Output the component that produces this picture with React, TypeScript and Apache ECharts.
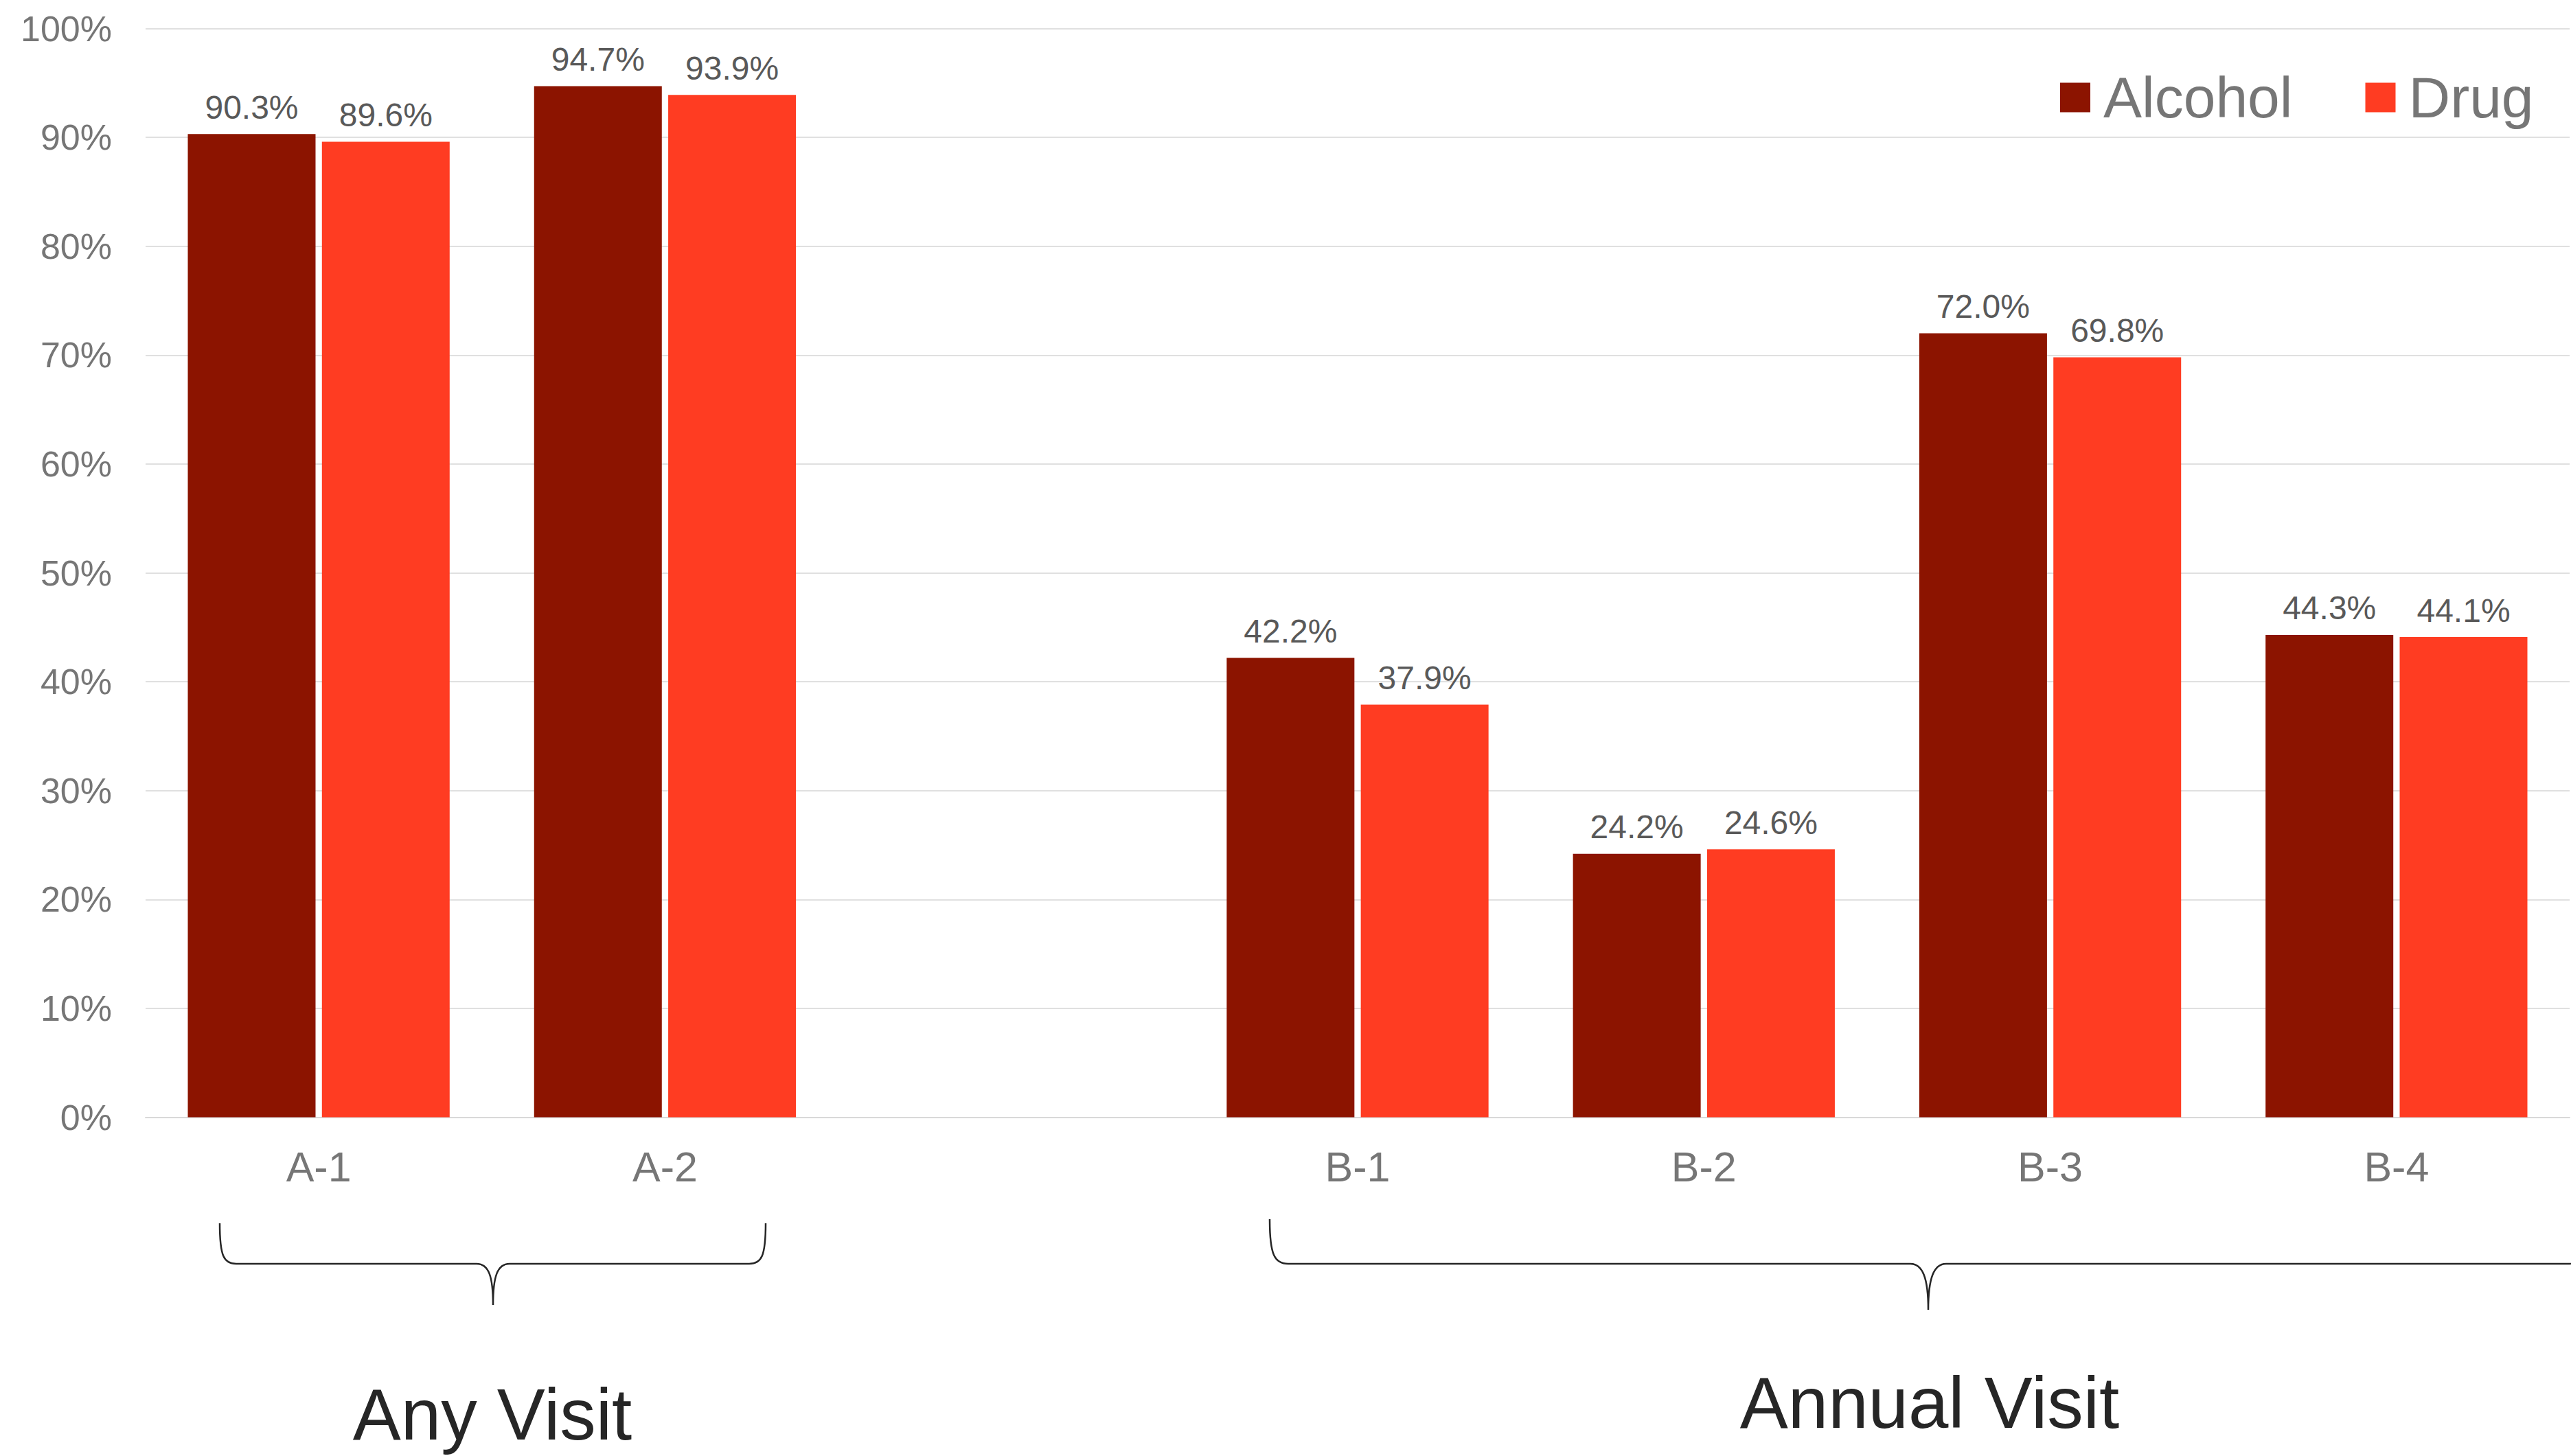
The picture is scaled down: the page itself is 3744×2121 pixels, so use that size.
import React, { useEffect, useRef } from "react";
import * as echarts from "echarts";

const categories = ["A-1", "A-2", "", "B-1", "B-2", "B-3", "B-4"];
const alcoholValues = [90.3, 94.7, null, 42.2, 24.2, 72.0, 44.3];
const drugValues = [89.6, 93.9, null, 37.9, 24.6, 69.8, 44.1];
const seriesNames = ["Alcohol", "Drug"];
const groupLabels = ["Any Visit", "Annual Visit"];

const FONT = "'Liberation Sans', Arial, Helvetica, sans-serif";
const C_ALC = "#8C1400";
const C_DRUG = "#FF3C22";

const braceAny =
  "M320,1782 C320,1830 326,1841 344,1841 L694,1841 C712,1841 718,1860 718,1901 C718,1860 724,1841 742,1841 L1091,1841 C1109,1841 1115,1830 1115,1782";
const braceAnnual =
  "M1849,1776 C1849,1828 1856,1841 1876,1841 L2782,1841 C2800,1841 2808,1862 2808,1908 C2808,1862 2816,1841 2834,1841 L3740,1841 C3760,1841 3767,1828 3767,1776";

let registered = false;
function registerShapes() {
  if (registered) return;
  registered = true;
  echarts.graphic.registerShape("braceAny", echarts.graphic.extendPath(braceAny, {}));
  echarts.graphic.registerShape("braceAnnual", echarts.graphic.extendPath(braceAnnual, {}));
}

export default function App() {
  const ref = useRef<HTMLDivElement>(null);
  useEffect(() => {
    document.body.style.margin = "0";
    registerShapes();
    const chart = echarts.init(ref.current!, null, { renderer: "svg" });
    const labelOpt = {
      show: true,
      position: "top",
      distance: 15,
      fontSize: 48,
      color: "#595959",
      fontFamily: FONT,
      formatter: (p: any) => Number(p.value).toFixed(1) + "%",
    };
    chart.setOption({
      animation: false,
      backgroundColor: "#ffffff",
      grid: { left: 212, right: 2, top: 41.5, bottom: 493.5, containLabel: false },
      legend: {
        data: seriesNames,
        left: 3000,
        top: 100,
        padding: 0,
        icon: "rect",
        itemWidth: 44,
        itemHeight: 43,
        itemGap: 106,
        textStyle: { fontSize: 84, color: "#767676", fontFamily: FONT, padding: [0, 0, 0, 14] },
      },
      xAxis: {
        type: "category",
        data: categories,
        axisTick: { show: false },
        axisLine: { lineStyle: { color: "#d9d9d9", width: 2 } },
        axisLabel: { fontSize: 61, color: "#767676", fontFamily: FONT, margin: 42 },
      },
      yAxis: {
        type: "value",
        min: 0,
        max: 100,
        interval: 10,
        axisLine: { show: false },
        axisTick: { show: false },
        axisLabel: {
          fontSize: 52,
          color: "#767676",
          fontFamily: FONT,
          margin: 49,
          formatter: "{value}%",
        },
        splitLine: { lineStyle: { color: "#e0e0e0", width: 2 } },
      },
      series: [
        {
          name: seriesNames[0],
          type: "bar",
          data: alcoholValues,
          barWidth: 186,
          barGap: "5%",
          itemStyle: { color: C_ALC },
          label: labelOpt,
        },
        {
          name: seriesNames[1],
          type: "bar",
          data: drugValues,
          barWidth: 186,
          barGap: "5%",
          itemStyle: { color: C_DRUG },
          label: labelOpt,
        },
      ],
      graphic: [
        {
          type: "braceAny",
          style: { fill: "none", stroke: "#262626", lineWidth: 2.5 },
        },
        {
          type: "braceAnnual",
          style: { fill: "none", stroke: "#262626", lineWidth: 2.5 },
        },
        {
          type: "text",
          x: 717,
          y: 2060,
          style: {
            text: groupLabels[0],
            fontSize: 105,
            fontFamily: FONT,
            fill: "#262626",
            align: "center",
            verticalAlign: "middle",
          },
        },
        {
          type: "text",
          x: 2810,
          y: 2043,
          style: {
            text: groupLabels[1],
            fontSize: 105,
            fontFamily: FONT,
            fill: "#262626",
            align: "center",
            verticalAlign: "middle",
          },
        },
      ],
    });
    return () => chart.dispose();
  }, []);
  return (
    <div
      ref={ref}
      style={{ position: "absolute", left: 0, top: 0, width: 3744, height: 2121 }}
    />
  );
}
